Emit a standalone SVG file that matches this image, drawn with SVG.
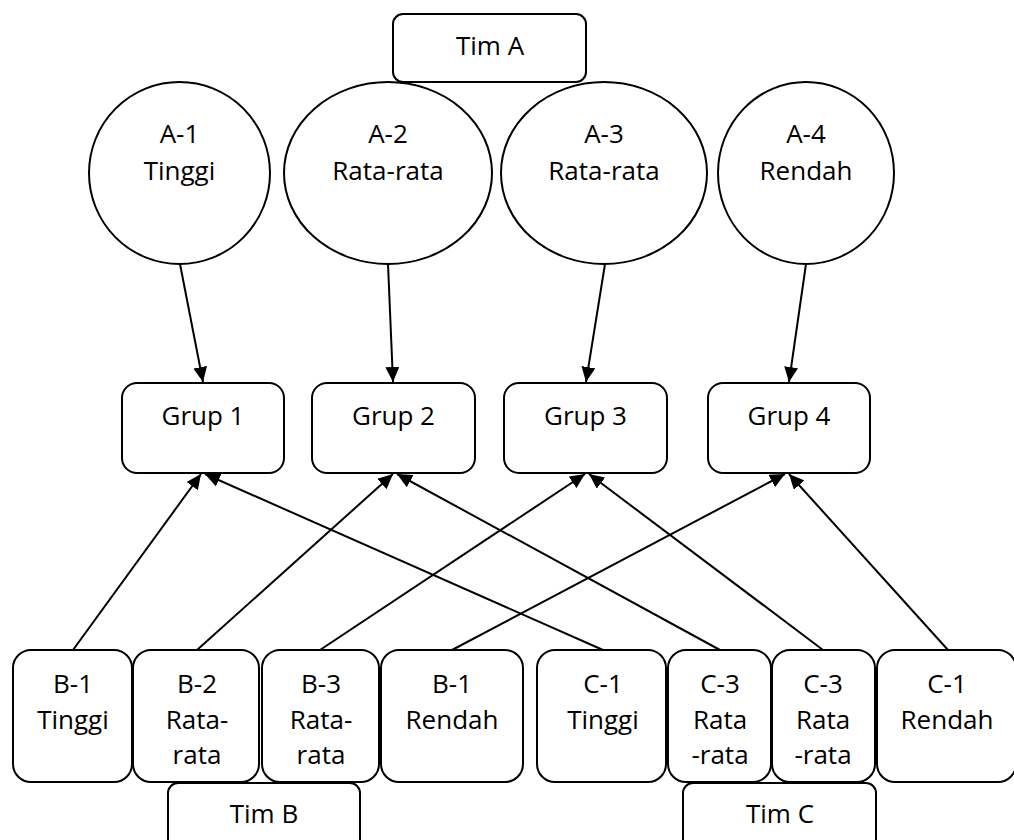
<svg xmlns="http://www.w3.org/2000/svg" width="1014" height="840" viewBox="0 0 1014 840">
<style>
.n{fill:#fff;stroke:#000;stroke-width:2}
.t{font-family:"Open Sans","Liberation Sans",sans-serif;font-size:26px;fill:#000;text-anchor:middle}
.c{stroke:#000;stroke-width:2;fill:none;marker-end:url(#ah)}
</style>
<defs>
<marker id="ah" viewBox="0 0 15 14" refX="15" refY="7" markerWidth="15" markerHeight="14" markerUnits="userSpaceOnUse" orient="auto">
<path d="M0,0 L15,7 L0,14 z" fill="#000"/>
</marker>
</defs>
<rect width="1014" height="840" fill="#fff"/>
<g id="connectors">
<line class="c" x1="180" y1="264" x2="203" y2="382"/>
<line class="c" x1="388" y1="264" x2="393" y2="382"/>
<line class="c" x1="605" y1="264" x2="586" y2="382"/>
<line class="c" x1="806" y1="264" x2="789" y2="382"/>
<line class="c" x1="73" y1="650" x2="201" y2="474"/>
<line class="c" x1="603" y1="650" x2="205" y2="474"/>
<line class="c" x1="197" y1="650" x2="393" y2="474"/>
<line class="c" x1="720" y1="650" x2="397" y2="474"/>
<line class="c" x1="320" y1="650" x2="585" y2="474"/>
<line class="c" x1="823" y1="650" x2="589" y2="474"/>
<line class="c" x1="452" y1="650" x2="785" y2="474"/>
<line class="c" x1="948" y1="650" x2="789" y2="474"/>
</g>
<g id="timA"><rect class="n" x="393" y="14" width="193" height="68" rx="10"/><text class="t" x="490" y="55">Tim A</text></g>
<g id="a1"><ellipse class="n" cx="179.5" cy="173" rx="90.5" ry="91"/><text class="t" x="179.5" y="143">A-1</text><text class="t" x="179.5" y="180">Tinggi</text></g>
<g id="a2"><ellipse class="n" cx="388" cy="173" rx="104" ry="91"/><text class="t" x="388" y="143">A-2</text><text class="t" x="388" y="180">Rata-rata</text></g>
<g id="a3"><ellipse class="n" cx="604" cy="173" rx="103" ry="91"/><text class="t" x="604" y="143">A-3</text><text class="t" x="604" y="180">Rata-rata</text></g>
<g id="a4"><ellipse class="n" cx="806" cy="173" rx="88" ry="91"/><text class="t" x="806" y="143">A-4</text><text class="t" x="806" y="180">Rendah</text></g>
<g id="g1"><rect class="n" x="122" y="383" width="162" height="90" rx="15"/><text class="t" x="203" y="425">Grup 1</text></g>
<g id="g2"><rect class="n" x="312" y="383" width="163" height="90" rx="15"/><text class="t" x="393.5" y="425">Grup 2</text></g>
<g id="g3"><rect class="n" x="504" y="383" width="163" height="90" rx="15"/><text class="t" x="585.5" y="425">Grup 3</text></g>
<g id="g4"><rect class="n" x="708" y="383" width="162" height="90" rx="15"/><text class="t" x="789" y="425">Grup 4</text></g>
<g id="timB"><rect class="n" x="168" y="783" width="192" height="80" rx="10"/><text class="t" x="264" y="823">Tim B</text></g>
<g id="timC"><rect class="n" x="683" y="783" width="193" height="80" rx="10"/><text class="t" x="780" y="823">Tim C</text></g>
<g id="b1"><rect class="n" x="13" y="650" width="119" height="132" rx="18"/><text class="t" x="73" y="693">B-1</text><text class="t" x="73" y="729">Tinggi</text></g>
<g id="b2"><rect class="n" x="133" y="650" width="126" height="132" rx="18"/><text class="t" x="197" y="693">B-2</text><text class="t" x="197" y="729">Rata-</text><text class="t" x="197" y="764">rata</text></g>
<g id="b3"><rect class="n" x="262" y="650" width="117" height="132" rx="18"/><text class="t" x="321" y="693">B-3</text><text class="t" x="321" y="729">Rata-</text><text class="t" x="321" y="764">rata</text></g>
<g id="b4"><rect class="n" x="381" y="650" width="142" height="132" rx="18"/><text class="t" x="452" y="693">B-1</text><text class="t" x="452" y="729">Rendah</text></g>
<g id="c1"><rect class="n" x="537" y="650" width="129" height="132" rx="18"/><text class="t" x="603" y="693">C-1</text><text class="t" x="603" y="729">Tinggi</text></g>
<g id="c2"><rect class="n" x="668" y="650" width="103" height="132" rx="18"/><text class="t" x="720" y="693">C-3</text><text class="t" x="720" y="729">Rata</text><text class="t" x="720" y="764">-rata</text></g>
<g id="c3"><rect class="n" x="772" y="650" width="103" height="132" rx="18"/><text class="t" x="823" y="693">C-3</text><text class="t" x="823" y="729">Rata</text><text class="t" x="823" y="764">-rata</text></g>
<g id="c4"><rect class="n" x="877" y="650" width="139" height="132" rx="18"/><text class="t" x="947" y="693">C-1</text><text class="t" x="947" y="729">Rendah</text></g>
</svg>
